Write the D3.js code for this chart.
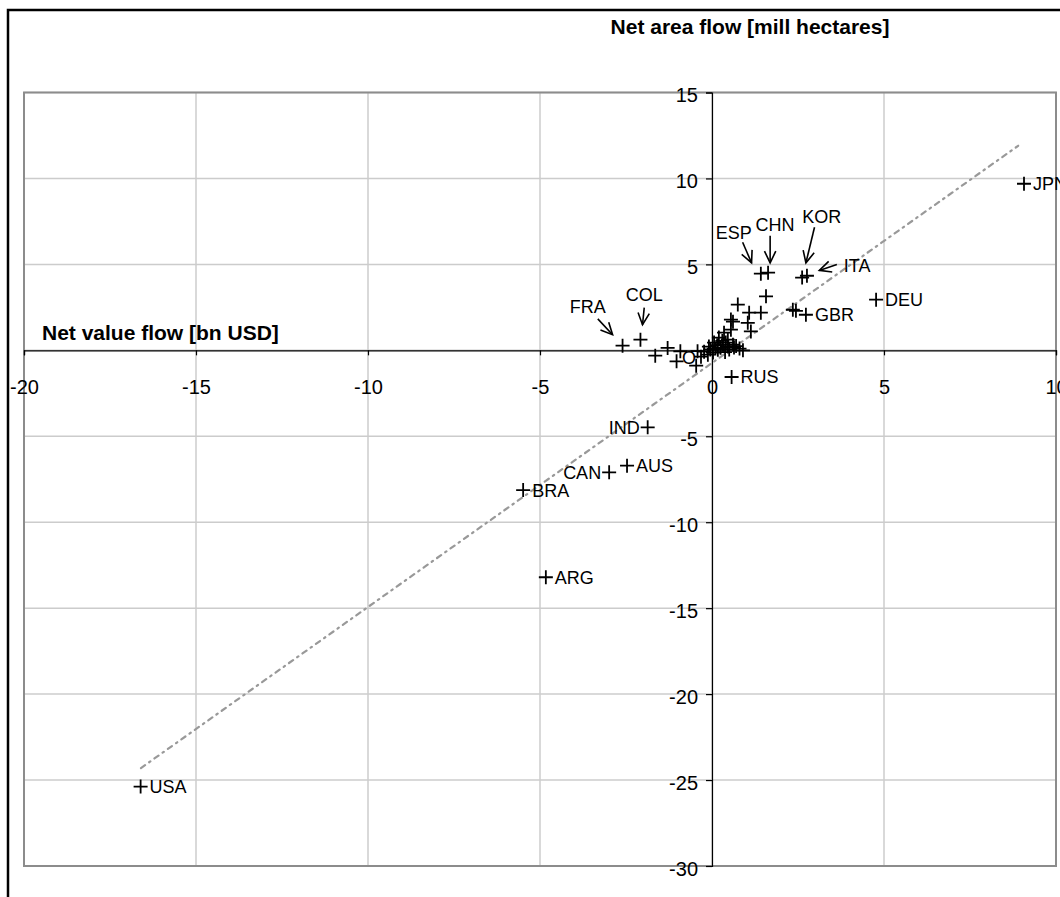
<!DOCTYPE html>
<html>
<head>
<meta charset="utf-8">
<script src="https://cdn.jsdelivr.net/npm/d3@7"></script>
<style>
  html, body { margin: 0; padding: 0; background: #fff; }
  svg { display: block; font-family: "Liberation Sans", Arial, sans-serif; }
</style>
</head>
<body>
<svg id="chart" width="1060" height="897"></svg>
<script>
// ---------------- DATA ----------------
const labelCountries = ["USA","JPN","DEU","GBR","ITA","KOR","ESP","CHN","FRA","COL","RUS","IND","AUS","CAN","BRA","ARG"];
const labelValueFlow = [-16.61, 9.07, 4.77, 2.73, 2.76, 2.62, 1.42, 1.63, -2.6, -2.08, 0.57, -1.87, -2.47, -2.99, -5.49, -4.83];
const labelAreaFlow  = [-25.38, 9.69, 2.95, 2.07, 4.34, 4.23, 4.46, 4.52, 0.27, 0.62, -1.55, -4.48, -6.71, -7.1, -8.13, -13.2];
const labelSide      = ["right","right","right","right","arrow","arrow","arrow","arrow","arrow","arrow","right","left","right","left","right","right"];

const otherValueFlow = [-1.65,-1.29,-1.03,-0.92,-0.46,-0.42,-0.32,-0.23,-0.12,-0.09,0.03,0.06,0.17,0.2,0.32,0.35,0.46,0.46,0.55,0.61,0.64,0.61,0.55,0.75,1.13,1.04,1.08,1.42,1.57,2.35,2.44,0.1,0.25,0.4,0.5,-0.05,0.15,0.3,0.7,0.8,0.9,0.38];
const otherAreaFlow  = [-0.31,0.14,-0.64,-0.06,-0.89,-0.05,-0.37,-0.08,-0.25,0.22,-0.13,0.45,0.04,0.74,0.33,1.03,0.22,0.62,1.2,0.33,0.16,1.67,1.79,2.66,1.1,1.6,2.19,2.19,3.14,2.36,2.3,0.1,0.15,0.45,0.05,0.05,0.3,0.55,0.25,0.1,0.0,-0.1];

// Arrow annotations (data units): label position, arrow tail, arrow head
const arrowLabels = ["FRA","COL","ESP","CHN","KOR","ITA"];
const arrowText = [[-3.61,2.56],[-1.97,3.26],[0.63,6.87],[1.83,7.31],[3.19,7.76],[4.22,4.95]];
const arrowTail = [[-3.32,1.83],[-1.97,2.48],[0.89,6.29],[1.69,6.67],[2.98,7.16],[3.63,4.99]];
const arrowHead = [[-2.89,0.91],[-2.02,1.49],[1.15,5.09],[1.69,5.09],[2.73,5.09],[3.12,4.65]];

// Partial label hidden in the cluster
const clusterLabel = {text: "O", v: -0.67, a: -0.37};

// Trend line endpoints
const trendValue = [-16.6, 8.9];
const trendArea  = [-24.3, 11.9];

const xTicks = [-20,-15,-10,-5,0,5,10];
const yTicks = [15,10,5,-5,-10,-15,-20,-25,-30];
const gridX = [-20,-15,-10,-5,0,5,10];
const gridY = [15,10,5,0,-5,-10,-15,-20,-25,-30];

const titleTop = "Net area flow [mill hectares]";
const titleX = "Net value flow [bn USD]";

// ---------------- CHART ----------------
const svg = d3.select("#chart");
const L = 24, R = 1056, T = 92.5, B = 866;
const x = d3.scaleLinear().domain([-20,10]).range([L,R]);
const y = d3.scaleLinear().domain([-30,15]).range([B,T]);
const fmt = d => String(d);   // plain hyphen-minus like the reference

// outer frame
svg.append("rect").attr("x",8).attr("y",10).attr("width",1200).attr("height",1000)
  .attr("fill","none").attr("stroke","#000").attr("stroke-width",2.5);

// gridlines
svg.append("g").selectAll("line").data(gridX).join("line")
  .attr("x1",d=>x(d)).attr("x2",d=>x(d)).attr("y1",T).attr("y2",B)
  .attr("stroke","#cccccc").attr("stroke-width",1.5);
svg.append("g").selectAll("line").data(gridY).join("line")
  .attr("x1",L).attr("x2",R).attr("y1",d=>y(d)).attr("y2",d=>y(d))
  .attr("stroke","#cccccc").attr("stroke-width",1.5);

// plot area border
svg.append("rect").attr("x",L).attr("y",T).attr("width",R-L).attr("height",B-T)
  .attr("fill","none").attr("stroke","#8c8c8c").attr("stroke-width",2);

// trend line
svg.append("line")
  .attr("x1",x(trendValue[0])).attr("y1",y(trendArea[0]))
  .attr("x2",x(trendValue[1])).attr("y2",y(trendArea[1]))
  .attr("stroke","#999").attr("stroke-width",2.2)
  .attr("stroke-dasharray","5,5,1.5,5").attr("stroke-linecap","round");

// axes
const xAxis = d3.axisBottom(x).tickValues(xTicks).tickSize(5).tickPadding(24).tickFormat(fmt);
const gx = svg.append("g").attr("transform",`translate(0,${y(0)})`).call(xAxis);
gx.select(".domain").attr("stroke","#000").attr("stroke-width",1.2);
gx.selectAll(".tick line").attr("stroke","#000").attr("stroke-width",1.2);
gx.selectAll(".tick text").attr("font-size",20).attr("fill","#000")
  .attr("font-family","'Liberation Sans', Arial, sans-serif");

const yAxis = d3.axisLeft(y).tickValues(yTicks).tickSize(6).tickPadding(8).tickFormat(fmt);
const gy = svg.append("g").attr("transform",`translate(${x(0)},0)`).call(yAxis);
gy.select(".domain").attr("stroke","#000").attr("stroke-width",1.2);
gy.selectAll(".tick line").attr("stroke","#000").attr("stroke-width",1.2);
gy.selectAll(".tick text").attr("font-size",20).attr("fill","#000").attr("dy","0.45em")
  .attr("font-family","'Liberation Sans', Arial, sans-serif");

// titles
svg.append("text").attr("x",750).attr("y",34).attr("text-anchor","middle")
  .attr("font-size",21).attr("font-weight","bold").text(titleTop);
svg.append("text").attr("x",42).attr("y",340).attr("text-anchor","start")
  .attr("font-size",21).attr("font-weight","bold").text(titleX);

// markers
const cross = "M-7,0H7M0,-7V7";
const pts = otherValueFlow.map((v,i)=>({v, a: otherAreaFlow[i]}))
  .concat(labelCountries.map((c,i)=>({v: labelValueFlow[i], a: labelAreaFlow[i]})));
svg.append("g").selectAll("path").data(pts).join("path")
  .attr("d",cross).attr("transform",d=>`translate(${x(d.v)},${y(d.a)})`)
  .attr("stroke","#000").attr("stroke-width",1.8).attr("fill","none");

// cluster partial label
svg.append("text").attr("x",x(clusterLabel.v)).attr("y",y(clusterLabel.a)+7)
  .attr("font-size",18).attr("text-anchor","middle").text(clusterLabel.text);

// direct labels
const lab = svg.append("g").attr("font-size",18);
labelCountries.forEach((c,i)=>{
  const px = x(labelValueFlow[i]), py = y(labelAreaFlow[i]);
  if (labelSide[i]==="right") {
    lab.append("text").attr("x",px+9).attr("y",py+6.5).text(c);
  } else if (labelSide[i]==="left") {
    lab.append("text").attr("x",px-8).attr("y",py+6.5).attr("text-anchor","end").text(c);
  }
});

// arrow labels
const arr = svg.append("g");
arrowLabels.forEach((c,i)=>{
  const tx = x(arrowText[i][0]), ty = y(arrowText[i][1]);
  arr.append("text").attr("x",tx).attr("y",ty+6.5).attr("text-anchor","middle")
    .attr("font-size",18).text(c);
  const x1 = x(arrowTail[i][0]), y1 = y(arrowTail[i][1]);
  const x2 = x(arrowHead[i][0]), y2 = y(arrowHead[i][1]);
  arr.append("line").attr("x1",x1).attr("y1",y1).attr("x2",x2).attr("y2",y2)
    .attr("stroke","#000").attr("stroke-width",1.6);
  const ang = Math.atan2(y2-y1, x2-x1);
  const hl = 13, ha = 0.45;
  const p1 = [x2 - hl*Math.cos(ang-ha), y2 - hl*Math.sin(ang-ha)];
  const p2 = [x2 - hl*Math.cos(ang+ha), y2 - hl*Math.sin(ang+ha)];
  arr.append("path").attr("d",`M${p1[0]},${p1[1]}L${x2},${y2}L${p2[0]},${p2[1]}`)
    .attr("stroke","#000").attr("stroke-width",1.6).attr("fill","none");
});
</script>
</body>
</html>
